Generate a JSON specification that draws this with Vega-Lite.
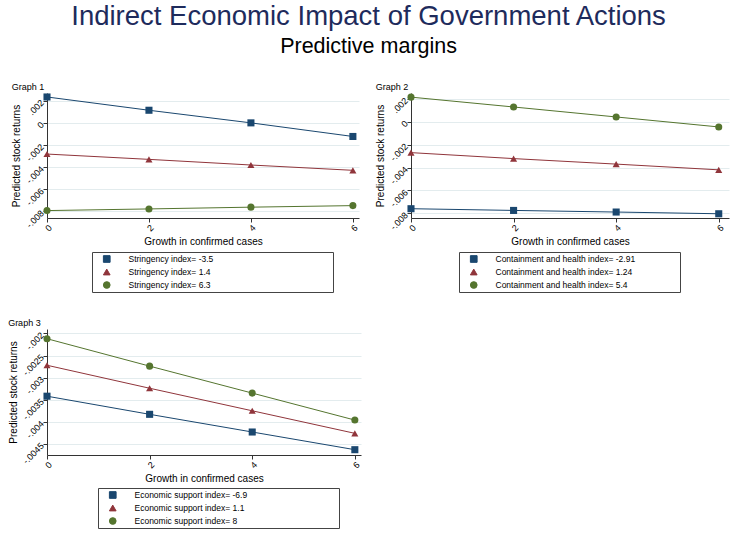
{
  "$schema": "https://vega.github.io/schema/vega-lite/v6.json",
  "background": "white",
  "padding": {"left": 8, "top": 3, "right": 3, "bottom": 3},
  "title": {
    "text": "Indirect Economic Impact of Government Actions",
    "subtitle": "Predictive margins",
    "font": "Liberation Sans",
    "subtitleFont": "Liberation Sans",
    "fontSize": 27.5,
    "subtitleFontSize": 21.5,
    "fontWeight": "normal",
    "color": "#1e2b5c",
    "subtitleColor": "#000000",
    "anchor": "middle",
    "frame": "bounds",
    "offset": 26,
    "subtitlePadding": 5
  },
  "data": {
    "values": [
      {"graph": 1, "series": "Stringency index= -3.5", "x": 0, "y": 0.00234},
      {"graph": 1, "series": "Stringency index= -3.5", "x": 2, "y": 0.00114},
      {"graph": 1, "series": "Stringency index= -3.5", "x": 4, "y": 0.0},
      {"graph": 1, "series": "Stringency index= -3.5", "x": 6, "y": -0.00123},
      {"graph": 1, "series": "Stringency index= 1.4", "x": 0, "y": -0.00282},
      {"graph": 1, "series": "Stringency index= 1.4", "x": 2, "y": -0.0033},
      {"graph": 1, "series": "Stringency index= 1.4", "x": 4, "y": -0.00381},
      {"graph": 1, "series": "Stringency index= 1.4", "x": 6, "y": -0.00429},
      {"graph": 1, "series": "Stringency index= 6.3", "x": 0, "y": -0.00793},
      {"graph": 1, "series": "Stringency index= 6.3", "x": 2, "y": -0.00778},
      {"graph": 1, "series": "Stringency index= 6.3", "x": 4, "y": -0.00762},
      {"graph": 1, "series": "Stringency index= 6.3", "x": 6, "y": -0.00748},
      {"graph": 2, "series": "Containment and health index= -2.91", "x": 0, "y": -0.00759},
      {"graph": 2, "series": "Containment and health index= -2.91", "x": 2, "y": -0.00774},
      {"graph": 2, "series": "Containment and health index= -2.91", "x": 4, "y": -0.00788},
      {"graph": 2, "series": "Containment and health index= -2.91", "x": 6, "y": -0.00803},
      {"graph": 2, "series": "Containment and health index= 1.24", "x": 0, "y": -0.0027},
      {"graph": 2, "series": "Containment and health index= 1.24", "x": 2, "y": -0.00322},
      {"graph": 2, "series": "Containment and health index= 1.24", "x": 4, "y": -0.0037},
      {"graph": 2, "series": "Containment and health index= 1.24", "x": 6, "y": -0.0042},
      {"graph": 2, "series": "Containment and health index= 5.4", "x": 0, "y": 0.00214},
      {"graph": 2, "series": "Containment and health index= 5.4", "x": 2, "y": 0.00128},
      {"graph": 2, "series": "Containment and health index= 5.4", "x": 4, "y": 0.00041},
      {"graph": 2, "series": "Containment and health index= 5.4", "x": 6, "y": -0.00046},
      {"graph": 3, "series": "Economic support index= -6.9", "x": 0, "y": -0.00342},
      {"graph": 3, "series": "Economic support index= -6.9", "x": 2, "y": -0.00383},
      {"graph": 3, "series": "Economic support index= -6.9", "x": 4, "y": -0.00423},
      {"graph": 3, "series": "Economic support index= -6.9", "x": 6, "y": -0.00463},
      {"graph": 3, "series": "Economic support index= 1.1", "x": 0, "y": -0.00272},
      {"graph": 3, "series": "Economic support index= 1.1", "x": 2, "y": -0.00324},
      {"graph": 3, "series": "Economic support index= 1.1", "x": 4, "y": -0.00375},
      {"graph": 3, "series": "Economic support index= 1.1", "x": 6, "y": -0.00426},
      {"graph": 3, "series": "Economic support index= 8", "x": 0, "y": -0.00212},
      {"graph": 3, "series": "Economic support index= 8", "x": 2, "y": -0.00274},
      {"graph": 3, "series": "Economic support index= 8", "x": 4, "y": -0.00335},
      {"graph": 3, "series": "Economic support index= 8", "x": 6, "y": -0.00396}
    ]
  },
  "spacing": 26,
  "vconcat": [
    {
      "spacing": 15,
      "hconcat": [
        {
          "width": 312,
          "height": 125,
          "title": {"text": "Graph 1", "anchor": "start", "fontSize": 9, "fontWeight": "normal", "offset": 1, "color": "#000000"},
          "transform": [{"filter": "datum.graph === 1"}],
          "encoding": {
            "x": {"field": "x", "type": "quantitative", "scale": {"domain": [0, 6.12], "nice": false, "zero": false},
                  "axis": {"values": [0, 2, 4, 6], "title": "Growth in confirmed cases", "labelAngle": -45}},
            "y": {"field": "y", "type": "quantitative", "scale": {"domain": [-0.0086, 0.0027], "nice": false, "zero": false},
                  "axis": {"values": [-0.008, -0.006, -0.004, -0.002, 0, 0.002], "title": "Predicted stock returns",
                           "labelExpr": "replace(replace(format(datum.value, '~g'), '0.', '.'), '\u2212', '-')"}},
            "color": {"field": "series", "type": "nominal",
                      "scale": {"domain": ["Stringency index= -3.5", "Stringency index= 1.4", "Stringency index= 6.3"], "range": ["#1a476f", "#90353b", "#55752f"]},
                      "legend": {
                        "title": null, "orient": "none", "legendX": 45, "legendY": 159, "direction": "vertical",
                        "strokeColor": "#444444", "fillColor": "white", "padding": 1.5, "rowPadding": 2, "clipHeight": 11,
                        "labelFontSize": 8.5, "labelLimit": 400, "labelColor": "#000000",
                        "symbolSize": 45, "symbolStrokeWidth": 1, "symbolOffset": 9, "labelOffset": 17.5,
                        "labelExpr": "datum.label + '\u00a0\u00a0\u00a0\u00a0\u00a0\u00a0\u00a0\u00a0\u00a0\u00a0\u00a0\u00a0\u00a0\u00a0\u00a0\u00a0\u00a0\u00a0\u00a0\u00a0\u00a0\u00a0\u00a0\u00a0\u00a0\u00a0\u00a0\u00a0\u00a0\u00a0\u00a0\u00a0\u00a0\u00a0\u00a0\u00a0\u00a0\u00a0\u00a0\u00a0\u00a0\u00a0\u00a0\u00a0\u00a0\u00a0\u00a0\u00a0\u00a0\u00a0\u200b'"
                      }}
          },
          "layer": [
            {"mark": {"type": "line", "strokeWidth": 1}},
            {"mark": {"type": "point", "filled": true, "size": 50, "opacity": 1},
             "encoding": {"shape": {"field": "series", "type": "nominal", "legend": null,
                      "scale": {"domain": ["Stringency index= -3.5", "Stringency index= 1.4", "Stringency index= 6.3"], "range": ["square", "triangle-up", "circle"]}}}}
          ]
        },
        {
          "width": 318,
          "height": 125,
          "title": {"text": "Graph 2", "anchor": "start", "fontSize": 9, "fontWeight": "normal", "offset": 1, "color": "#000000"},
          "transform": [{"filter": "datum.graph === 2"}],
          "encoding": {
            "x": {"field": "x", "type": "quantitative", "scale": {"domain": [0, 6.2], "nice": false, "zero": false},
                  "axis": {"values": [0, 2, 4, 6], "title": "Growth in confirmed cases", "labelAngle": -45}},
            "y": {"field": "y", "type": "quantitative", "scale": {"domain": [-0.0084, 0.0025], "nice": false, "zero": false},
                  "axis": {"values": [-0.008, -0.006, -0.004, -0.002, 0, 0.002], "title": "Predicted stock returns",
                           "labelExpr": "replace(replace(format(datum.value, '~g'), '0.', '.'), '\u2212', '-')"}},
            "color": {"field": "series", "type": "nominal",
                      "scale": {"domain": ["Containment and health index= -2.91", "Containment and health index= 1.24", "Containment and health index= 5.4"], "range": ["#1a476f", "#90353b", "#55752f"]},
                      "legend": {
                        "title": null, "orient": "none", "legendX": 48, "legendY": 159, "direction": "vertical",
                        "strokeColor": "#444444", "fillColor": "white", "padding": 1.5, "rowPadding": 2, "clipHeight": 11,
                        "labelFontSize": 8.5, "labelLimit": 400, "labelColor": "#000000",
                        "symbolSize": 45, "symbolStrokeWidth": 1, "symbolOffset": 9, "labelOffset": 17.5,
                        "labelExpr": "datum.label + '\u00a0\u00a0\u00a0\u00a0\u00a0\u00a0\u00a0\u00a0\u00a0\u00a0\u00a0\u00a0\u00a0\u00a0\u00a0\u00a0\u00a0\u00a0\u200b'"
                      }}
          },
          "layer": [
            {"mark": {"type": "line", "strokeWidth": 1}},
            {"mark": {"type": "point", "filled": true, "size": 50, "opacity": 1},
             "encoding": {"shape": {"field": "series", "type": "nominal", "legend": null,
                      "scale": {"domain": ["Containment and health index= -2.91", "Containment and health index= 1.24", "Containment and health index= 5.4"], "range": ["square", "triangle-up", "circle"]}}}}
          ]
        }
      ],
      "resolve": {"scale": {"color": "independent", "shape": "independent"}, "legend": {"color": "independent", "shape": "independent"}}
    },
    {
      "width": 314,
      "height": 126,
      "title": {"text": "Graph 3", "anchor": "start", "fontSize": 9, "fontWeight": "normal", "offset": 1, "color": "#000000"},
      "transform": [{"filter": "datum.graph === 3"}],
      "encoding": {
        "x": {"field": "x", "type": "quantitative", "scale": {"domain": [0, 6.12], "nice": false, "zero": false},
              "axis": {"values": [0, 2, 4, 6], "title": "Growth in confirmed cases", "labelAngle": -45}},
        "y": {"field": "y", "type": "quantitative", "scale": {"domain": [-0.00475, -0.0019], "nice": false, "zero": false},
              "axis": {"values": [-0.0045, -0.004, -0.0035, -0.003, -0.0025, -0.002], "title": "Predicted stock returns",
                       "labelExpr": "replace(replace(format(datum.value, '~g'), '0.', '.'), '\u2212', '-')"}},
        "color": {"field": "series", "type": "nominal",
                  "scale": {"domain": ["Economic support index= -6.9", "Economic support index= 1.1", "Economic support index= 8"], "range": ["#1a476f", "#90353b", "#55752f"]},
                  "legend": {
                    "title": null, "orient": "none", "legendX": 51, "legendY": 159, "direction": "vertical",
                    "strokeColor": "#444444", "fillColor": "white", "padding": 1.5, "rowPadding": 2, "clipHeight": 11,
                    "labelFontSize": 8.5, "labelLimit": 400, "labelColor": "#000000",
                    "symbolSize": 45, "symbolStrokeWidth": 1, "symbolOffset": 9, "labelOffset": 17.5,
                    "labelExpr": "datum.label + '\u00a0\u00a0\u00a0\u00a0\u00a0\u00a0\u00a0\u00a0\u00a0\u00a0\u00a0\u00a0\u00a0\u00a0\u00a0\u00a0\u00a0\u00a0\u00a0\u00a0\u00a0\u00a0\u00a0\u00a0\u00a0\u00a0\u00a0\u00a0\u00a0\u00a0\u00a0\u00a0\u00a0\u00a0\u00a0\u00a0\u00a0\u00a0\u200b'"
                  }}
      },
      "layer": [
        {"mark": {"type": "line", "strokeWidth": 1}},
        {"mark": {"type": "point", "filled": true, "size": 50, "opacity": 1},
         "encoding": {"shape": {"field": "series", "type": "nominal", "legend": null,
                  "scale": {"domain": ["Economic support index= -6.9", "Economic support index= 1.1", "Economic support index= 8"], "range": ["square", "triangle-up", "circle"]}}}}
      ]
    }
  ],
  "resolve": {"scale": {"color": "independent", "shape": "independent"}, "legend": {"color": "independent", "shape": "independent"}},
  "config": {
    "font": "Liberation Sans",
    "view": {"stroke": null},
    "axis": {"labelFontSize": 9, "titleFontSize": 10, "titleFontWeight": "normal", "labelColor": "#000000", "titleColor": "#000000",
             "domainColor": "#333333", "tickColor": "#333333", "tickSize": 4, "gridColor": "#e3ecee", "labelPadding": 1},
    "axisX": {"grid": false, "titlePadding": 4},
    "axisY": {"grid": true, "titlePadding": 3, "labelAngle": -45, "labelOverlap": false}
  }
}
